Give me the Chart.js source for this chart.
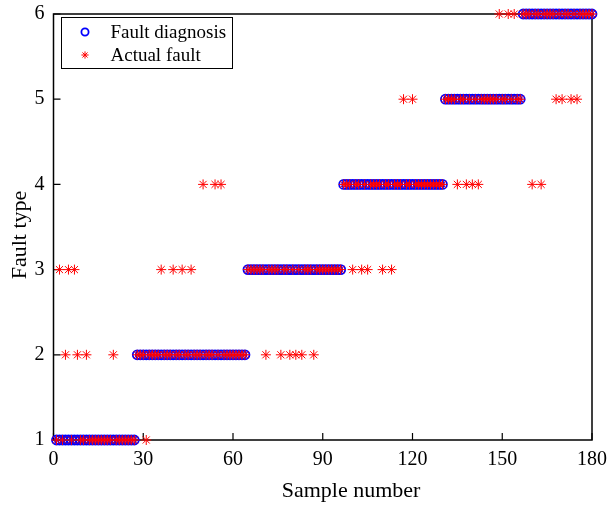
<!DOCTYPE html>
<html>
<head>
<meta charset="utf-8">
<script src="https://cdn.jsdelivr.net/npm/chart.js@4.4.1/dist/chart.umd.min.js"></script>
<style>
  html, body { margin: 0; padding: 0; background: #fff; }
  #wrap { width: 609px; height: 507px; }
</style>
</head>
<body>
<div id="wrap"><canvas id="faultChart" width="609" height="507"></canvas></div>
<script>
// axis ticks
const xTicks = [0, 30, 60, 90, 120, 150, 180];
const yTicks = [1, 2, 3, 4, 5, 6];

// diagnosed fault type per sample (samples 1..180, 30 per row)
const diagnosis = [
  1,1,1,1,1,1,1,1,1,1, 1,1,1,1,1,1,1,1,1,1, 1,1,1,1,1,1,1,2,2,2,
  2,2,2,2,2,2,2,2,2,2, 2,2,2,2,2,2,2,2,2,2, 2,2,2,2,2,2,2,2,2,2,
  2,2,2,2,3,3,3,3,3,3, 3,3,3,3,3,3,3,3,3,3, 3,3,3,3,3,3,3,3,3,3,
  3,3,3,3,3,3,4,4,4,4, 4,4,4,4,4,4,4,4,4,4, 4,4,4,4,4,4,4,4,4,4,
  4,4,4,4,4,4,4,4,4,4, 5,5,5,5,5,5,5,5,5,5, 5,5,5,5,5,5,5,5,5,5,
  5,5,5,5,5,5,6,6,6,6, 6,6,6,6,6,6,6,6,6,6, 6,6,6,6,6,6,6,6,6,6
];

// actual fault type per sample
const actual = [
  1,3,1,2,3,1,3,2,1,1, 2,1,1,1,1,1,1,1,1,2, 1,1,1,1,1,1,1,2,2,2,
  1,2,2,2,2,3,2,2,2,3, 2,2,3,2,2,3,2,2,2,4, 2,2,2,4,2,4,2,2,2,2,
  2,2,2,2,3,3,3,3,3,3, 2,3,3,3,3,2,3,3,2,3, 2,3,2,3,3,3,2,3,3,3,
  3,3,3,3,3,3,4,4,4,3, 4,4,3,4,3,4,4,4,4,3, 4,4,3,4,4,4,5,4,4,5,
  4,4,4,4,4,4,4,4,4,4, 5,5,5,5,4,5,5,4,5,4, 5,4,5,5,5,5,5,5,6,5,
  5,6,5,6,5,5,6,6,6,4, 6,6,4,6,6,6,6,5,6,5, 6,6,5,6,5,6,6,6,6,6
];

const xTitle = 'Sample number';
const yTitle = 'Fault type';

const serif = "'Liberation Serif', 'Times New Roman', serif";
const toPoints = arr => arr.map((v, i) => ({ x: i + 1, y: v }));

// box around the plot plus inward tick marks on bottom and left
const framePlugin = {
  id: 'frame',
  beforeDatasetsDraw(chart) {
    const { ctx, chartArea: a, scales } = chart;
    const tickLen = 7;
    ctx.save();
    ctx.strokeStyle = '#000';
    ctx.lineWidth = 1.5;
    ctx.strokeRect(a.left, a.top, a.right - a.left, a.bottom - a.top);
    ctx.lineWidth = 1.2;
    ctx.beginPath();
    scales.x.ticks.forEach(t => {
      const px = scales.x.getPixelForValue(t.value);
      ctx.moveTo(px, a.bottom);
      ctx.lineTo(px, a.bottom - tickLen);
    });
    scales.y.ticks.forEach(t => {
      const py = scales.y.getPixelForValue(t.value);
      ctx.moveTo(a.left, py);
      ctx.lineTo(a.left + tickLen, py);
    });
    ctx.stroke();

    // axis titles
    ctx.fillStyle = '#000';
    ctx.font = '22px ' + serif;
    ctx.textAlign = 'center';
    ctx.textBaseline = 'middle';
    ctx.fillText(xTitle, 351, 491);
    ctx.translate(20, 235);
    ctx.rotate(-Math.PI / 2);
    ctx.fillText(yTitle, 0, 0);
    ctx.restore();
  }
};

// boxed legend in the upper-left corner of the plot
const legendBox = {
  id: 'legendBox',
  afterDraw(chart) {
    const { ctx, chartArea: a } = chart;
    const left = a.left + 8, top = a.top + 3.5, w = 171, h = 51;
    ctx.save();
    ctx.fillStyle = '#fff';
    ctx.fillRect(left, top, w, h);
    ctx.strokeStyle = '#000';
    ctx.lineWidth = 1;
    ctx.strokeRect(left, top, w, h);
    ctx.font = '19px ' + serif;
    ctx.textBaseline = 'middle';
    chart.data.datasets.forEach((ds, i) => {
      const y = top + 14.5 + i * 23;
      ctx.strokeStyle = ds.pointBorderColor;
      ctx.fillStyle = 'rgba(0,0,0,0)';
      ctx.lineWidth = ds.pointBorderWidth;
      Chart.helpers.drawPoint(ctx, { pointStyle: ds.pointStyle, radius: 3.6, rotation: 0, borderWidth: ds.pointBorderWidth }, left + 23.5, y);
      ctx.fillStyle = '#000';
      ctx.fillText(ds.label, left + 49, y + 1);
    });
    ctx.restore();
  }
};

const tickFont = { family: serif, size: 20 };

new Chart(document.getElementById('faultChart'), {
  type: 'scatter',
  data: {
    datasets: [
      {
        label: 'Fault diagnosis',
        data: toPoints(diagnosis),
        pointStyle: 'circle',
        pointRadius: 4.5,
        pointBorderWidth: 1.8,
        pointBorderColor: '#0000ff',
        pointBackgroundColor: 'rgba(0,0,0,0)',
        borderColor: '#0000ff',
        showLine: false,
        clip: false,
        order: 1
      },
      {
        label: 'Actual fault',
        data: toPoints(actual),
        pointStyle: 'star',
        pointRadius: 5,
        pointBorderWidth: 1,
        pointBorderColor: '#ff0000',
        pointBackgroundColor: '#ff0000',
        borderColor: '#ff0000',
        showLine: false,
        clip: false,
        order: 0
      }
    ]
  },
  options: {
    responsive: false,
    animation: false,
    events: [],
    layout: { padding: { top: 14, right: 17, left: 0, bottom: 0 } },
    plugins: {
      legend: { display: false },
      tooltip: { enabled: false }
    },
    scales: {
      x: {
        type: 'linear',
        min: 0,
        max: 180,
        afterBuildTicks: s => { s.ticks = xTicks.map(v => ({ value: v })); },
        afterFit: s => { s.height = 67; s.paddingLeft = 0; s.paddingRight = 0; },
        grid: { display: false, drawTicks: false },
        border: { display: false },
        ticks: { font: tickFont, color: '#000', padding: 8, maxRotation: 0, autoSkip: false }
      },
      y: {
        type: 'linear',
        min: 1,
        max: 6,
        afterBuildTicks: s => { s.ticks = yTicks.map(v => ({ value: v })); },
        afterFit: s => { s.width = 53.5; s.paddingTop = 0; s.paddingBottom = 0; },
        grid: { display: false, drawTicks: false },
        border: { display: false },
        ticks: { font: tickFont, color: '#000', padding: 9, autoSkip: false }
      }
    }
  },
  plugins: [framePlugin, legendBox]
});
</script>
</body>
</html>
